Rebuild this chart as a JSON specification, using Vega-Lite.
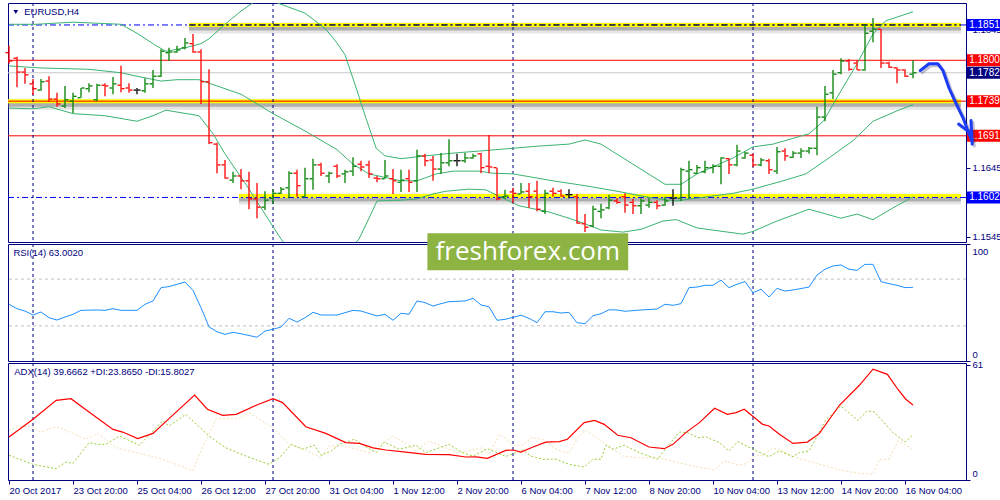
{
"$schema": "https://vega.github.io/schema/vega-lite/v6.json",
"background": "#ffffff",
"padding": {"left": 2, "top": 2, "right": 0, "bottom": 0},
"spacing": 2,
"bounds": "flush",
"resolve": {"scale": {"x": "independent", "y": "independent"}},
"config": {
 "view": {"stroke": "#000080", "strokeWidth": 1},
 "axis": {"grid": false, "title": null, "domainColor": "#000080", "tickColor": "#000080", "labelColor": "#000080", "labelFont": "Liberation Sans", "labelFontSize": 9.5, "tickSize": 4, "labelPadding": 2, "zindex": 0},
 "text": {"font": "Liberation Sans"}
},
"datasets": {
 "bars": [
{"i":0,"o":1.1811,"h":1.1821,"l":1.1795,"c":1.1799},{"i":1,"o":1.1803,"h":1.1805,"l":1.1761,"c":1.1783},{"i":2,"o":1.1783,"h":1.1789,"l":1.1766,"c":1.1779},{"i":3,"o":1.1766,"h":1.1773,"l":1.1750,"c":1.1759},{"i":4,"o":1.1757,"h":1.1773,"l":1.1756,"c":1.1769},{"i":5,"o":1.1770,"h":1.1777,"l":1.1740,"c":1.1744},{"i":6,"o":1.1744,"h":1.1753,"l":1.1733,"c":1.1737},{"i":7,"o":1.1734,"h":1.1763,"l":1.1731,"c":1.1743},{"i":8,"o":1.1741,"h":1.1753,"l":1.1724,"c":1.1748},{"i":9,"o":1.1746,"h":1.1760,"l":1.1746,"c":1.1760},
{"i":10,"o":1.1759,"h":1.1767,"l":1.1754,"c":1.1763},{"i":11,"o":1.1743,"h":1.1766,"l":1.1741,"c":1.1764},{"i":12,"o":1.1764,"h":1.1767,"l":1.1748,"c":1.1763},{"i":13,"o":1.1760,"h":1.1776,"l":1.1751,"c":1.1766},{"i":14,"o":1.1764,"h":1.1792,"l":1.1754,"c":1.1759},{"i":15,"o":1.1760,"h":1.1767,"l":1.1753,"c":1.1757},{"i":16,"o":1.1757,"h":1.1760,"l":1.1751,"c":1.1757},{"i":17,"o":1.1756,"h":1.1774,"l":1.1753,"c":1.1766},{"i":18,"o":1.1766,"h":1.1786,"l":1.1760,"c":1.1777},{"i":19,"o":1.1777,"h":1.1816,"l":1.1776,"c":1.1813},
{"i":20,"o":1.1811,"h":1.1818,"l":1.1799,"c":1.1812},{"i":21,"o":1.1812,"h":1.1821,"l":1.1811,"c":1.1815},{"i":22,"o":1.1818,"h":1.1832,"l":1.1816,"c":1.1825},{"i":23,"o":1.1824,"h":1.1838,"l":1.1811,"c":1.1812},{"i":24,"o":1.1812,"h":1.1816,"l":1.1737,"c":1.1769},{"i":25,"o":1.1769,"h":1.1787,"l":1.1679,"c":1.1681},{"i":26,"o":1.1679,"h":1.1681,"l":1.1637,"c":1.1649},{"i":27,"o":1.1649,"h":1.1656,"l":1.1629,"c":1.1630},{"i":28,"o":1.1627,"h":1.1639,"l":1.1623,"c":1.1633},{"i":29,"o":1.1633,"h":1.1643,"l":1.1614,"c":1.1626},
{"i":30,"o":1.1626,"h":1.1639,"l":1.1585,"c":1.1600},{"i":31,"o":1.1600,"h":1.1623,"l":1.1572,"c":1.1588},{"i":32,"o":1.1588,"h":1.1611,"l":1.1584,"c":1.1598},{"i":33,"o":1.1601,"h":1.1614,"l":1.1593,"c":1.1608},{"i":34,"o":1.1608,"h":1.1617,"l":1.1607,"c":1.1614},{"i":35,"o":1.1616,"h":1.1640,"l":1.1601,"c":1.1637},{"i":36,"o":1.1637,"h":1.1642,"l":1.1603,"c":1.1619},{"i":37,"o":1.1603,"h":1.1645,"l":1.1603,"c":1.1629},{"i":38,"o":1.1629,"h":1.1658,"l":1.1613,"c":1.1649},{"i":39,"o":1.1649,"h":1.1652,"l":1.1633,"c":1.1637},
{"i":40,"o":1.1633,"h":1.1639,"l":1.1623,"c":1.1637},{"i":41,"o":1.1647,"h":1.1650,"l":1.1630,"c":1.1633},{"i":42,"o":1.1636,"h":1.1642,"l":1.1623,"c":1.1639},{"i":43,"o":1.1640,"h":1.1660,"l":1.1633,"c":1.1647},{"i":44,"o":1.1650,"h":1.1655,"l":1.1640,"c":1.1646},{"i":45,"o":1.1649,"h":1.1655,"l":1.1630,"c":1.1636},{"i":46,"o":1.1630,"h":1.1633,"l":1.1624,"c":1.1629},{"i":47,"o":1.1629,"h":1.1656,"l":1.1629,"c":1.1633},{"i":48,"o":1.1629,"h":1.1643,"l":1.1607,"c":1.1626},{"i":49,"o":1.1624,"h":1.1642,"l":1.1610,"c":1.1627},
{"i":50,"o":1.1629,"h":1.1642,"l":1.1610,"c":1.1624},{"i":51,"o":1.1626,"h":1.1671,"l":1.1610,"c":1.1662},{"i":52,"o":1.1662,"h":1.1665,"l":1.1647,"c":1.1655},{"i":53,"o":1.1656,"h":1.1662,"l":1.1626,"c":1.1643},{"i":54,"o":1.1643,"h":1.1666,"l":1.1636,"c":1.1652},{"i":55,"o":1.1652,"h":1.1686,"l":1.1647,"c":1.1655},{"i":56,"o":1.1655,"h":1.1665,"l":1.1647,"c":1.1655},{"i":57,"o":1.1655,"h":1.1666,"l":1.1652,"c":1.1659},{"i":58,"o":1.1659,"h":1.1665,"l":1.1658,"c":1.1662},{"i":59,"o":1.1665,"h":1.1666,"l":1.1637,"c":1.1645},
{"i":60,"o":1.1647,"h":1.1692,"l":1.1637,"c":1.1646},{"i":61,"o":1.1645,"h":1.1645,"l":1.1598,"c":1.1600},{"i":62,"o":1.1603,"h":1.1613,"l":1.1600,"c":1.1604},{"i":63,"o":1.1610,"h":1.1616,"l":1.1594,"c":1.1608},{"i":64,"o":1.1607,"h":1.1623,"l":1.1607,"c":1.1610},{"i":65,"o":1.1611,"h":1.1623,"l":1.1587,"c":1.1603},{"i":66,"o":1.1611,"h":1.1626,"l":1.1582,"c":1.1585},{"i":67,"o":1.1582,"h":1.1613,"l":1.1578,"c":1.1608},{"i":68,"o":1.1611,"h":1.1616,"l":1.1603,"c":1.1608},{"i":69,"o":1.1611,"h":1.1614,"l":1.1603,"c":1.1604},
{"i":70,"o":1.1606,"h":1.1614,"l":1.1601,"c":1.1606},{"i":71,"o":1.1603,"h":1.1607,"l":1.1564,"c":1.1565},{"i":72,"o":1.1564,"h":1.1578,"l":1.1552,"c":1.1559},{"i":73,"o":1.1561,"h":1.1590,"l":1.1559,"c":1.1585},{"i":74,"o":1.1582,"h":1.1593,"l":1.1572,"c":1.1584},{"i":75,"o":1.1587,"h":1.1606,"l":1.1585,"c":1.1598},{"i":76,"o":1.1597,"h":1.1601,"l":1.1593,"c":1.1595},{"i":77,"o":1.1603,"h":1.1608,"l":1.1580,"c":1.1591},{"i":78,"o":1.1595,"h":1.1600,"l":1.1578,"c":1.1590},{"i":79,"o":1.1590,"h":1.1601,"l":1.1578,"c":1.1597},
{"i":80,"o":1.1591,"h":1.1601,"l":1.1587,"c":1.1595},{"i":81,"o":1.1595,"h":1.1598,"l":1.1585,"c":1.1590},{"i":82,"o":1.1591,"h":1.1603,"l":1.1590,"c":1.1597},{"i":83,"o":1.1601,"h":1.1614,"l":1.1590,"c":1.1601},{"i":84,"o":1.1601,"h":1.1645,"l":1.1597,"c":1.1642},{"i":85,"o":1.1640,"h":1.1655,"l":1.1600,"c":1.1642},{"i":86,"o":1.1637,"h":1.1649,"l":1.1636,"c":1.1645},{"i":87,"o":1.1639,"h":1.1655,"l":1.1637,"c":1.1645},{"i":88,"o":1.1645,"h":1.1650,"l":1.1637,"c":1.1647},{"i":89,"o":1.1647,"h":1.1660,"l":1.1621,"c":1.1659},
{"i":90,"o":1.1658,"h":1.1659,"l":1.1636,"c":1.1649},{"i":91,"o":1.1649,"h":1.1678,"l":1.1647,"c":1.1669},{"i":92,"o":1.1659,"h":1.1668,"l":1.1658,"c":1.1666},{"i":93,"o":1.1663,"h":1.1665,"l":1.1646,"c":1.1649},{"i":94,"o":1.1649,"h":1.1659,"l":1.1647,"c":1.1656},{"i":95,"o":1.1655,"h":1.1658,"l":1.1636,"c":1.1642},{"i":96,"o":1.1640,"h":1.1675,"l":1.1636,"c":1.1668},{"i":97,"o":1.1669,"h":1.1673,"l":1.1655,"c":1.1662},{"i":98,"o":1.1660,"h":1.1669,"l":1.1659,"c":1.1666},{"i":99,"o":1.1666,"h":1.1673,"l":1.1659,"c":1.1669},
{"i":100,"o":1.1669,"h":1.1675,"l":1.1665,"c":1.1673},{"i":101,"o":1.1673,"h":1.1733,"l":1.1663,"c":1.1718},{"i":102,"o":1.1718,"h":1.1763,"l":1.1712,"c":1.1751},{"i":103,"o":1.1753,"h":1.1786,"l":1.1744,"c":1.1780},{"i":104,"o":1.1782,"h":1.1803,"l":1.1780,"c":1.1799},{"i":105,"o":1.1799,"h":1.1802,"l":1.1785,"c":1.1787},{"i":106,"o":1.1796,"h":1.1800,"l":1.1786,"c":1.1786},{"i":107,"o":1.1786,"h":1.1852,"l":1.1785,"c":1.1839},{"i":108,"o":1.1842,"h":1.1861,"l":1.1826,"c":1.1845},{"i":109,"o":1.1845,"h":1.1845,"l":1.1789,"c":1.1796},
{"i":110,"o":1.1796,"h":1.1798,"l":1.1789,"c":1.1790},{"i":111,"o":1.1789,"h":1.1790,"l":1.1767,"c":1.1786},{"i":112,"o":1.1786,"h":1.1787,"l":1.1776,"c":1.1777},{"i":113,"o":1.1780,"h":1.1800,"l":1.1774,"c":1.1782}
 ],
 "bb": [
{"band":"upper","i":0,"v":1.1852},{"band":"upper","i":3.4,"v":1.1852},{"band":"upper","i":8,"v":1.1855},{"band":"upper","i":14,"v":1.1852},{"band":"upper","i":16,"v":1.1839},{"band":"upper","i":18.4,"v":1.1821},{"band":"upper","i":19.6,"v":1.1813},{"band":"upper","i":22,"v":1.1818},{"band":"upper","i":24,"v":1.1824},{"band":"upper","i":25,"v":1.1831},{"band":"upper","i":27,"v":1.1852},{"band":"upper","i":29,"v":1.1871},{"band":"upper","i":30.5,"v":1.1883},{"band":"upper","i":32,"v":1.1888},{"band":"upper","i":33.75,"v":1.1882},{"band":"upper","i":37,"v":1.1868},{"band":"upper","i":39.6,"v":1.1845},{"band":"upper","i":41,"v":1.1825},{"band":"upper","i":42,"v":1.1808},{"band":"upper","i":43.4,"v":1.1760},{"band":"upper","i":44.6,"v":1.1717},{"band":"upper","i":45.9,"v":1.1673},{"band":"upper","i":47,"v":1.1662},{"band":"upper","i":49,"v":1.1658},{"band":"upper","i":52,"v":1.1662},{"band":"upper","i":55.5,"v":1.1666},{"band":"upper","i":58.8,"v":1.1669},{"band":"upper","i":63,"v":1.1673},{"band":"upper","i":66,"v":1.1676},{"band":"upper","i":70,"v":1.1679},{"band":"upper","i":72,"v":1.1685},{"band":"upper","i":74,"v":1.1679},{"band":"upper","i":78,"v":1.1650},{"band":"upper","i":82,"v":1.1621},{"band":"upper","i":84,"v":1.1621},{"band":"upper","i":86,"v":1.1636},{"band":"upper","i":90.5,"v":1.1659},{"band":"upper","i":93,"v":1.1675},{"band":"upper","i":95.5,"v":1.1679},{"band":"upper","i":100,"v":1.1694},{"band":"upper","i":101.8,"v":1.1712},{"band":"upper","i":104,"v":1.1756},{"band":"upper","i":106,"v":1.1795},{"band":"upper","i":108,"v":1.1838},{"band":"upper","i":109.6,"v":1.1857},{"band":"upper","i":113,"v":1.1870},
{"band":"mid","i":0,"v":1.1792},{"band":"mid","i":3.75,"v":1.1789},{"band":"mid","i":10,"v":1.1787},{"band":"mid","i":14,"v":1.1782},{"band":"mid","i":16,"v":1.1777},{"band":"mid","i":19,"v":1.1770},{"band":"mid","i":21,"v":1.1772},{"band":"mid","i":23.75,"v":1.1772},{"band":"mid","i":25,"v":1.1767},{"band":"mid","i":29,"v":1.1751},{"band":"mid","i":33,"v":1.1723},{"band":"mid","i":37,"v":1.1698},{"band":"mid","i":41,"v":1.1671},{"band":"mid","i":43,"v":1.1650},{"band":"mid","i":45,"v":1.1636},{"band":"mid","i":49,"v":1.1626},{"band":"mid","i":51,"v":1.1626},{"band":"mid","i":53.4,"v":1.1636},{"band":"mid","i":55.5,"v":1.1640},{"band":"mid","i":58.75,"v":1.1640},{"band":"mid","i":60.5,"v":1.1637},{"band":"mid","i":63,"v":1.1636},{"band":"mid","i":68,"v":1.1626},{"band":"mid","i":72,"v":1.1619},{"band":"mid","i":76,"v":1.1611},{"band":"mid","i":80.5,"v":1.1601},{"band":"mid","i":83.4,"v":1.1597},{"band":"mid","i":86,"v":1.1601},{"band":"mid","i":90.5,"v":1.1608},{"band":"mid","i":93,"v":1.1614},{"band":"mid","i":96.75,"v":1.1626},{"band":"mid","i":99.6,"v":1.1636},{"band":"mid","i":102,"v":1.1655},{"band":"mid","i":105.5,"v":1.1684},{"band":"mid","i":108,"v":1.1712},{"band":"mid","i":111,"v":1.1727},{"band":"mid","i":113,"v":1.1736},
{"band":"lower","i":0,"v":1.1731},{"band":"lower","i":3,"v":1.1730},{"band":"lower","i":5,"v":1.1733},{"band":"lower","i":8,"v":1.1723},{"band":"lower","i":12,"v":1.1720},{"band":"lower","i":16,"v":1.1712},{"band":"lower","i":18,"v":1.1720},{"band":"lower","i":19.6,"v":1.1728},{"band":"lower","i":23.75,"v":1.1720},{"band":"lower","i":25.5,"v":1.1694},{"band":"lower","i":27,"v":1.1665},{"band":"lower","i":29.6,"v":1.1621},{"band":"lower","i":32,"v":1.1578},{"band":"lower","i":34,"v":1.1542},{"band":"lower","i":36,"v":1.1515},{"band":"lower","i":38,"v":1.1502},{"band":"lower","i":40,"v":1.1505},{"band":"lower","i":42,"v":1.1520},{"band":"lower","i":43.75,"v":1.1542},{"band":"lower","i":45,"v":1.1572},{"band":"lower","i":46,"v":1.1597},{"band":"lower","i":49,"v":1.1598},{"band":"lower","i":51,"v":1.1600},{"band":"lower","i":53,"v":1.1607},{"band":"lower","i":54.6,"v":1.1611},{"band":"lower","i":57.5,"v":1.1614},{"band":"lower","i":59.6,"v":1.1613},{"band":"lower","i":61.75,"v":1.1601},{"band":"lower","i":63.75,"v":1.1590},{"band":"lower","i":67.5,"v":1.1581},{"band":"lower","i":70,"v":1.1572},{"band":"lower","i":72,"v":1.1564},{"band":"lower","i":74,"v":1.1555},{"band":"lower","i":76.75,"v":1.1552},{"band":"lower","i":79,"v":1.1556},{"band":"lower","i":81.75,"v":1.1568},{"band":"lower","i":83.4,"v":1.1570},{"band":"lower","i":86,"v":1.1558},{"band":"lower","i":91.75,"v":1.1549},{"band":"lower","i":93,"v":1.1553},{"band":"lower","i":96,"v":1.1568},{"band":"lower","i":100,"v":1.1585},{"band":"lower","i":104,"v":1.1572},{"band":"lower","i":106,"v":1.1578},{"band":"lower","i":108,"v":1.1570},{"band":"lower","i":110.5,"v":1.1587},{"band":"lower","i":113,"v":1.1603}
 ],
 "rsi": [
{"i":0,"v":48.5},{"i":1,"v":44.7},{"i":2,"v":42.7},{"i":3,"v":39.3},{"i":4,"v":41.9},{"i":5,"v":37.0},{"i":6,"v":35.0},{"i":7,"v":37.6},{"i":8,"v":39.9},{"i":9,"v":43.3},{"i":11,"v":43.6},{"i":12,"v":43.3},{"i":13,"v":44.7},{"i":14,"v":43.3},{"i":16,"v":43.3},{"i":17,"v":48.5},{"i":18,"v":51.3},{"i":19,"v":62.7},{"i":20,"v":63.6},{"i":21,"v":65.6},{"i":22,"v":67.5},{"i":23,"v":60.4},{"i":24,"v":45.6},{"i":25,"v":29.1},{"i":26,"v":25.0},{"i":27,"v":22.8},{"i":28,"v":24.5},{"i":29,"v":23.3},{"i":31,"v":20.3},{"i":32,"v":25.6},{"i":33,"v":27.1},{"i":34,"v":29.1},{"i":35,"v":36.5},{"i":36,"v":33.3},{"i":37,"v":37.0},{"i":38,"v":41.6},{"i":39,"v":39.3},{"i":41,"v":39.3},{"i":43,"v":43.3},{"i":44,"v":42.7},{"i":46,"v":38.5},{"i":47,"v":39.9},{"i":48,"v":34.8},{"i":49,"v":40.8},{"i":50,"v":39.9},{"i":51,"v":51.3},{"i":52,"v":49.9},{"i":53,"v":47.0},{"i":54,"v":49.0},{"i":55,"v":50.7},{"i":57,"v":51.3},{"i":58,"v":53.6},{"i":59,"v":47.9},{"i":60,"v":46.4},{"i":61,"v":34.8},{"i":62,"v":35.6},{"i":64,"v":39.1},{"i":65,"v":36.5},{"i":66,"v":32.7},{"i":67,"v":42.1},{"i":68,"v":42.1},{"i":69,"v":41.0},{"i":70,"v":41.6},{"i":71,"v":32.7},{"i":72,"v":31.9},{"i":73,"v":38.7},{"i":74,"v":40.4},{"i":75,"v":43.8},{"i":76,"v":43.6},{"i":77,"v":42.5},{"i":79,"v":43.6},{"i":81,"v":44.4},{"i":82,"v":48.5},{"i":83,"v":47.6},{"i":84,"v":49.0},{"i":85,"v":62.7},{"i":86,"v":63.2},{"i":87,"v":64.7},{"i":88,"v":64.7},{"i":89,"v":69.2},{"i":90,"v":62.7},{"i":91,"v":65.6},{"i":92,"v":67.9},{"i":93,"v":58.4},{"i":94,"v":61.3},{"i":95,"v":54.7},{"i":96,"v":62.1},{"i":97,"v":59.8},{"i":98,"v":60.7},{"i":100,"v":63.2},{"i":101,"v":73.5},{"i":102,"v":78.4},{"i":103,"v":81.2},{"i":104,"v":82.1},{"i":105,"v":78.4},{"i":106,"v":77.5},{"i":107,"v":82.6},{"i":108,"v":82.6},{"i":109,"v":67.8},{"i":110,"v":66.1},{"i":111,"v":64.7},{"i":112,"v":62.7},{"i":113,"v":63.0}
 ],
 "adx": [
{"i":0,"v":22.8},{"i":3,"v":32.2},{"i":5.9,"v":42.2},{"i":7.75,"v":43.1},{"i":10,"v":36.0},{"i":13,"v":26.8},{"i":14.2,"v":25.4},{"i":16.1,"v":21.9},{"i":18,"v":24.7},{"i":20,"v":32.5},{"i":23.2,"v":45.0},{"i":24.8,"v":37.5},{"i":26.7,"v":34.3},{"i":28.4,"v":34.8},{"i":30.9,"v":39.6},{"i":33,"v":43.1},{"i":34.2,"v":41.0},{"i":37.1,"v":28.2},{"i":39.6,"v":24.7},{"i":42.1,"v":19.8},{"i":43.8,"v":19.4},{"i":45.5,"v":17.0},{"i":47.1,"v":15.9},{"i":49.6,"v":14.8},{"i":52.1,"v":13.6},{"i":55,"v":13.4},{"i":57.1,"v":12.2},{"i":58.4,"v":12.3},{"i":59.8,"v":11.5},{"i":62.1,"v":15.7},{"i":63,"v":15.9},{"i":64,"v":14.8},{"i":65.5,"v":17.5},{"i":67.1,"v":20.1},{"i":68.8,"v":20.3},{"i":69.8,"v":21.6},{"i":71.9,"v":30.4},{"i":73.2,"v":31.6},{"i":74.4,"v":29.5},{"i":76.1,"v":23.7},{"i":77.75,"v":22.4},{"i":80,"v":17.5},{"i":81.9,"v":16.6},{"i":83,"v":18.9},{"i":84.6,"v":25.1},{"i":86.3,"v":30.4},{"i":88.2,"v":38.0},{"i":89.8,"v":34.8},{"i":90.9,"v":35.7},{"i":91.9,"v":37.5},{"i":93.2,"v":33.0},{"i":94.2,"v":29.5},{"i":95,"v":28.6},{"i":96.3,"v":24.2},{"i":98,"v":19.4},{"i":99.8,"v":20.1},{"i":101.3,"v":24.7},{"i":103.8,"v":39.6},{"i":106.3,"v":50.2},{"i":108,"v":58.7},{"i":109.8,"v":56.0},{"i":111.1,"v":48.1},{"i":112.1,"v":42.8},{"i":113,"v":39.7}
 ],
 "pdi": [
{"i":0,"v":13.1},{"i":3,"v":8.3},{"i":5.9,"v":6.0},{"i":7.1,"v":9.5},{"i":8,"v":8.8},{"i":10,"v":19.8},{"i":11.1,"v":18.9},{"i":12.1,"v":18.9},{"i":13.8,"v":23.3},{"i":16.3,"v":18.4},{"i":19.2,"v":31.3},{"i":20,"v":28.6},{"i":22.1,"v":34.8},{"i":25,"v":23.3},{"i":27.1,"v":17.1},{"i":29.6,"v":12.7},{"i":32.5,"v":8.3},{"i":33.8,"v":11.8},{"i":35.3,"v":18.9},{"i":36.7,"v":16.3},{"i":38.2,"v":18.4},{"i":39,"v":13.1},{"i":40.3,"v":15.4},{"i":41.3,"v":18.9},{"i":43.2,"v":21.6},{"i":44.6,"v":17.6},{"i":45.9,"v":14.5},{"i":46.9,"v":20.1},{"i":48.8,"v":16.3},{"i":50.9,"v":18.4},{"i":52.1,"v":14.5},{"i":55,"v":18.9},{"i":56.7,"v":14.5},{"i":58,"v":12.7},{"i":59.8,"v":16.6},{"i":62.1,"v":12.5},{"i":63.4,"v":14.5},{"i":64.2,"v":15.9},{"i":65.25,"v":12.7},{"i":66.7,"v":11.0},{"i":68.4,"v":11.0},{"i":70,"v":8.3},{"i":71.9,"v":6.9},{"i":73,"v":11.0},{"i":74,"v":11.0},{"i":74.6,"v":18.4},{"i":75.5,"v":16.3},{"i":76.9,"v":18.4},{"i":78.8,"v":14.5},{"i":81.1,"v":11.0},{"i":81.7,"v":14.5},{"i":83.8,"v":25.4},{"i":84.8,"v":25.1},{"i":86.1,"v":22.4},{"i":87.1,"v":22.9},{"i":88.8,"v":19.8},{"i":90,"v":15.4},{"i":91.1,"v":20.3},{"i":93,"v":16.3},{"i":95,"v":12.3},{"i":96.3,"v":15.4},{"i":98,"v":12.3},{"i":98.8,"v":14.5},{"i":100,"v":15.4},{"i":102.1,"v":31.8},{"i":104,"v":39.2},{"i":106.1,"v":31.6},{"i":107.3,"v":36.6},{"i":108.2,"v":36.0},{"i":110.5,"v":25.1},{"i":112,"v":20.1},{"i":113,"v":23.9}
 ],
 "mdi": [
{"i":0,"v":26.0},{"i":1.1,"v":28.6},{"i":3,"v":28.2},{"i":4,"v":25.4},{"i":5.9,"v":28.2},{"i":8,"v":24.7},{"i":9.6,"v":21.6},{"i":11.1,"v":24.7},{"i":13.4,"v":17.1},{"i":16.3,"v":14.1},{"i":19.2,"v":11.0},{"i":23,"v":4.8},{"i":23.8,"v":13.6},{"i":25.9,"v":32.5},{"i":28.8,"v":32.5},{"i":30,"v":35.7},{"i":33,"v":27.7},{"i":35,"v":18.9},{"i":37.1,"v":15.9},{"i":39,"v":11.8},{"i":40,"v":18.0},{"i":41.7,"v":18.0},{"i":43.8,"v":15.9},{"i":45,"v":14.5},{"i":47.1,"v":20.7},{"i":48,"v":23.3},{"i":50,"v":18.4},{"i":50.9,"v":15.4},{"i":52.5,"v":20.7},{"i":53.8,"v":18.4},{"i":55.5,"v":15.4},{"i":56.3,"v":14.5},{"i":59.2,"v":17.1},{"i":60,"v":13.6},{"i":61.3,"v":24.2},{"i":62.1,"v":22.0},{"i":63,"v":18.4},{"i":64.2,"v":18.4},{"i":65.25,"v":22.4},{"i":66.7,"v":21.6},{"i":68.4,"v":16.3},{"i":70,"v":14.1},{"i":71.1,"v":22.4},{"i":72.1,"v":26.5},{"i":73.6,"v":21.9},{"i":75,"v":18.0},{"i":76.7,"v":12.7},{"i":78.8,"v":11.8},{"i":81.3,"v":11.8},{"i":83.4,"v":9.5},{"i":85.5,"v":7.4},{"i":88.2,"v":5.3},{"i":89.4,"v":10.1},{"i":91.3,"v":7.8},{"i":92.3,"v":8.8},{"i":93.2,"v":12.7},{"i":94.2,"v":13.1},{"i":95.5,"v":17.1},{"i":96.7,"v":15.4},{"i":98.4,"v":11.8},{"i":100.7,"v":9.2},{"i":103.8,"v":5.3},{"i":106.3,"v":3.6},{"i":108,"v":3.0},{"i":108.8,"v":11.0},{"i":110,"v":11.0},{"i":111.1,"v":20.7},{"i":112.5,"v":17.6},{"i":113,"v":15.8}
 ],
 "seps": [{"i":3},{"i":33},{"i":63},{"i":93}],
 "zones": [{"name":"z1851","start":22.5,"price":1.1851},{"name":"z1739","start":-0.125,"price":1.1741},{"name":"z1602","start":28.75,"price":1.1604}],
 "hlines": [{"name":"res1800","price":1.18},{"name":"bid","price":1.1782},{"name":"sup1739","price":1.1741},{"name":"sup1691","price":1.1691},{"name":"lvl1851","price":1.1851},{"name":"lvl1602","price":1.1602}],
 "tags": [{"price":1.1851,"label":"1.1851","line":"blue"},{"price":1.18,"label":"1.1800","line":"red"},{"price":1.1782,"label":"1.1782","line":"bid"},{"price":1.1741,"label":"1.1739","line":"red"},{"price":1.1691,"label":"1.1691","line":"red"},{"price":1.1602,"label":"1.1602","line":"blue"}],
 "arrow": [
{"seg":"body","k":0,"i":113.9,"p":1.1785},{"seg":"body","k":1,"i":115,"p":1.1795},{"seg":"body","k":2,"i":116.1,"p":1.1795},{"seg":"body","k":3,"i":116.75,"p":1.1785},{"seg":"body","k":4,"i":117.5,"p":1.1760},{"seg":"body","k":5,"i":118.4,"p":1.1737},{"seg":"body","k":6,"i":119.25,"p":1.1717},{"seg":"body","k":7,"i":120.3,"p":1.1685},
{"seg":"head1","k":0,"i":118.7,"p":1.1708},{"seg":"head1","k":1,"i":120.1,"p":1.1696},
{"seg":"head2","k":0,"i":120.25,"p":1.1713},{"seg":"head2","k":1,"i":120.4,"p":1.1679}
 ],
 "levels": [{"v":70},{"v":30}],
 "one": [{}]
},
"vconcat": [
{
 "width": 958, "height": 239,
 "layer": [
  {"data": {"name": "zones"}, "mark": {"type": "rule", "color": "#8a8a8a", "strokeWidth": 11, "opacity": 0.22, "yOffset": 3},
   "encoding": {
    "x": {"field": "start", "type": "quantitative", "scale": {"domain": [-0.125, 119.625], "nice": false, "zero": false}, "axis": null},
    "x2": {"datum": 119},
    "y": {"field": "price", "type": "quantitative", "scale": {"domain": [1.15377, 1.18827], "nice": false, "zero": false},
          "axis": {"orient": "right", "values": [1.1545, 1.1595, 1.1645, 1.1695, 1.1745, 1.1795, 1.1845], "format": ".4f", "zindex": 0}}}},
  {"data": {"name": "zones"}, "mark": {"type": "rule", "color": "#606060", "strokeWidth": 5, "opacity": 0.4, "yOffset": 3},
   "encoding": {"x": {"field": "start", "type": "quantitative"}, "x2": {"datum": 119}, "y": {"field": "price", "type": "quantitative"}}},
  {"data": {"name": "zones"}, "mark": {"type": "rule", "color": "#ffff00", "strokeWidth": 4},
   "encoding": {"x": {"field": "start", "type": "quantitative"}, "x2": {"datum": 119}, "y": {"field": "price", "type": "quantitative"}}},
  {"data": {"name": "hlines"}, "transform": [{"filter": "indexof(['res1800','sup1691','sup1739'], datum.name) >= 0"}],
   "mark": {"type": "rule", "color": "#ff0000", "strokeWidth": 1},
   "encoding": {"y": {"field": "price", "type": "quantitative"}}},
  {"data": {"name": "hlines"}, "transform": [{"filter": "datum.name == 'bid'"}],
   "mark": {"type": "rule", "color": "#c8c8c8", "strokeWidth": 1},
   "encoding": {"y": {"field": "price", "type": "quantitative"}}},
  {"data": {"name": "hlines"}, "transform": [{"filter": "datum.name == 'lvl1851' || datum.name == 'lvl1602'"}],
   "mark": {"type": "rule", "color": "#0000ff", "strokeWidth": 1, "strokeDash": [6, 3, 2, 3]},
   "encoding": {"y": {"field": "price", "type": "quantitative"}}},
  {"data": {"name": "zones"}, "transform": [{"filter": "datum.name == 'z1851'"}],
   "mark": {"type": "rule", "color": "#000000", "strokeWidth": 1, "strokeDash": [6, 3, 2, 3]},
   "encoding": {"x": {"field": "start", "type": "quantitative"}, "x2": {"datum": 119}, "y": {"field": "price", "type": "quantitative"}}},
  {"data": {"name": "seps"}, "mark": {"type": "rule", "color": "#000080", "strokeWidth": 1, "strokeDash": [3, 3]},
   "encoding": {"x": {"field": "i", "type": "quantitative"}}},
  {"data": {"name": "bb"}, "mark": {"type": "line", "color": "#3cb371", "strokeWidth": 1, "clip": true},
   "encoding": {"x": {"field": "i", "type": "quantitative"}, "y": {"field": "v", "type": "quantitative"}, "detail": {"field": "band"}}},
  {"data": {"name": "bars"}, "mark": {"type": "rule", "strokeWidth": 1.3},
   "encoding": {"x": {"field": "i", "type": "quantitative"}, "y": {"field": "l", "type": "quantitative"}, "y2": {"field": "h"},
    "color": {"condition": [{"test": "datum.c > datum.o", "value": "#008000"}, {"test": "datum.c < datum.o", "value": "#ff0000"}], "value": "#000000"}}},
  {"data": {"name": "bars"}, "mark": {"type": "tick", "orient": "horizontal", "size": 3, "thickness": 1.3, "xOffset": -2, "opacity": 1},
   "encoding": {"x": {"field": "i", "type": "quantitative"}, "y": {"field": "o", "type": "quantitative"},
    "color": {"condition": [{"test": "datum.c > datum.o", "value": "#008000"}, {"test": "datum.c < datum.o", "value": "#ff0000"}], "value": "#000000"}}},
  {"data": {"name": "bars"}, "mark": {"type": "tick", "orient": "horizontal", "size": 3, "thickness": 1.3, "xOffset": 2, "opacity": 1},
   "encoding": {"x": {"field": "i", "type": "quantitative"}, "y": {"field": "c", "type": "quantitative"},
    "color": {"condition": [{"test": "datum.c > datum.o", "value": "#008000"}, {"test": "datum.c < datum.o", "value": "#ff0000"}], "value": "#000000"}}},
  {"data": {"name": "tags"}, "mark": {"type": "tick", "orient": "horizontal", "size": 35, "thickness": 12, "filled": true, "opacity": 1},
   "encoding": {"x": {"datum": 121.94}, "y": {"field": "price", "type": "quantitative"},
    "color": {"field": "line", "type": "nominal", "scale": {"domain": ["blue", "red", "bid"], "range": ["#0000ff", "#ff0000", "#000080"]}, "legend": null}}},
  {"data": {"name": "tags"}, "mark": {"type": "text", "color": "#ffffff", "fontSize": 10, "align": "center", "baseline": "middle", "font": "Liberation Sans"},
   "encoding": {"x": {"datum": 121.94}, "y": {"field": "price", "type": "quantitative"}, "text": {"field": "label"}}},
  {"data": {"name": "arrow"}, "mark": {"type": "line", "color": "#303060", "strokeWidth": 3, "opacity": 0.3, "strokeCap": "round", "strokeJoin": "round", "xOffset": 2, "yOffset": 2},
   "encoding": {"x": {"field": "i", "type": "quantitative"}, "y": {"field": "p", "type": "quantitative"}, "detail": {"field": "seg"}, "order": {"field": "k"}}},
  {"data": {"name": "arrow"}, "mark": {"type": "line", "color": "#1c3cf5", "strokeWidth": 3, "strokeCap": "round", "strokeJoin": "round"},
   "encoding": {"x": {"field": "i", "type": "quantitative"}, "y": {"field": "p", "type": "quantitative"}, "detail": {"field": "seg"}, "order": {"field": "k"}}},
  {"data": {"name": "one"}, "mark": {"type": "point", "shape": "triangle-down", "filled": true, "size": 22, "color": "#000080", "opacity": 1},
   "encoding": {"x": {"datum": 0.85}, "y": {"datum": 1.18697}}},
  {"data": {"name": "one"}, "mark": {"type": "text", "text": "EURUSD,H4", "align": "left", "baseline": "alphabetic", "fontSize": 9.5, "color": "#000080"},
   "encoding": {"x": {"datum": 1.9}, "y": {"datum": 1.18654}}}
 ]
},
{
 "width": 958, "height": 117,
 "layer": [
  {"data": {"name": "levels"}, "mark": {"type": "rule", "color": "#c0c0c0", "strokeWidth": 1, "strokeDash": [3, 3]},
   "encoding": {"y": {"field": "v", "type": "quantitative", "scale": {"domain": [0, 100], "nice": false, "zero": false},
    "axis": {"orient": "right", "values": [0, 30, 70, 100], "labelFlush": true, "labelFlushOffset": -2, "zindex": 0}}}},
  {"data": {"name": "seps"}, "mark": {"type": "rule", "color": "#000080", "strokeWidth": 1, "strokeDash": [3, 3]},
   "encoding": {"x": {"field": "i", "type": "quantitative", "scale": {"domain": [-0.125, 119.625], "nice": false, "zero": false}, "axis": null}}},
  {"data": {"name": "rsi"}, "mark": {"type": "line", "color": "#1e90ff", "strokeWidth": 1},
   "encoding": {"x": {"field": "i", "type": "quantitative"}, "y": {"field": "v", "type": "quantitative"}}},
  {"data": {"name": "one"}, "mark": {"type": "text", "text": "RSI(14) 63.0020", "align": "left", "baseline": "alphabetic", "fontSize": 9.5, "color": "#000080"},
   "encoding": {"x": {"datum": 0.55}, "y": {"datum": 89.7}}},
  {"data": {"name": "one"}, "mark": {"type": "rect", "color": "#8db443", "opacity": 1},
   "encoding": {"x": {"datum": 52.3}, "x2": {"datum": 77.4}, "y": {"datum": 109.1}, "y2": {"datum": 77.5}}},
  {"data": {"name": "one"}, "mark": {"type": "text", "text": "freshforex.com", "font": "Open Sans", "fontSize": 26, "color": "#ffffff", "align": "center", "baseline": "middle"},
   "encoding": {"x": {"datum": 64.85}, "y": {"datum": 93.3}}}
 ]
},
{
 "width": 958, "height": 117,
 "layer": [
  {"data": {"name": "seps"}, "mark": {"type": "rule", "color": "#000080", "strokeWidth": 1, "strokeDash": [3, 3]},
   "encoding": {"x": {"field": "i", "type": "quantitative", "scale": {"domain": [-0.125, 119.625], "nice": false, "zero": false},
    "axis": {"orient": "bottom", "values": [0, 8, 16, 24, 32, 40, 48, 56, 64, 72, 80, 88, 96, 104, 112],
     "labelExpr": "['20 Oct 2017','23 Oct 20:00','25 Oct 04:00','26 Oct 12:00','27 Oct 20:00','31 Oct 04:00','1 Nov 12:00','2 Nov 20:00','6 Nov 04:00','7 Nov 12:00','8 Nov 20:00','10 Nov 04:00','13 Nov 12:00','14 Nov 20:00','16 Nov 04:00'][round(datum.value / 8)]",
     "labelAlign": "left", "labelBaseline": "top", "labelPadding": 1, "labelOverlap": false, "labelFlush": false, "labelBound": false, "zindex": 0}}}},
  {"data": {"name": "mdi"}, "mark": {"type": "line", "color": "#f5deb3", "strokeWidth": 1, "strokeDash": [2, 2]},
   "encoding": {"x": {"field": "i", "type": "quantitative"},
    "y": {"field": "v", "type": "quantitative", "scale": {"domain": [0, 62], "nice": false, "zero": false},
     "axis": {"orient": "right", "values": [0, 61], "labelFlush": true, "labelFlushOffset": -2, "zindex": 0}}}},
  {"data": {"name": "pdi"}, "mark": {"type": "line", "color": "#9acd32", "strokeWidth": 1, "strokeDash": [2, 2]},
   "encoding": {"x": {"field": "i", "type": "quantitative"}, "y": {"field": "v", "type": "quantitative"}}},
  {"data": {"name": "adx"}, "mark": {"type": "line", "color": "#ff0000", "strokeWidth": 1.2},
   "encoding": {"x": {"field": "i", "type": "quantitative"}, "y": {"field": "v", "type": "quantitative"}}},
  {"data": {"name": "one"}, "mark": {"type": "text", "text": "ADX(14) 39.6662 +DI:23.8650 -DI:15.8027", "align": "left", "baseline": "alphabetic", "fontSize": 9.5, "color": "#000080"},
   "encoding": {"x": {"datum": 0.66}, "y": {"datum": 55.6}}}
 ]
}
]
}
